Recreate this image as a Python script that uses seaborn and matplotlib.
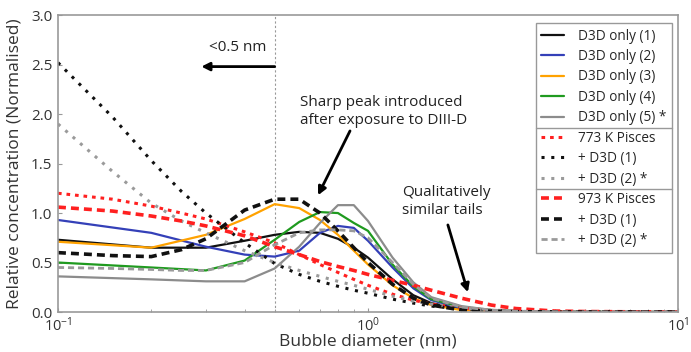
import numpy as np
import pandas as pd
import matplotlib
matplotlib.use("Agg")
import matplotlib.pyplot as plt
import seaborn as sns
from matplotlib.lines import Line2D

sns.set_style("white")
plt.rcParams['font.family'] = ['Open Sans', 'DejaVu Sans']
plt.rcParams['mathtext.fontset'] = 'dejavusans'

# ---------------- data (bubble diameter in nm, relative concentration) -------------
x_d3d = [0.1, 0.2, 0.3, 0.4, 0.5, 0.6, 0.7, 0.8, 0.9, 1.0, 1.2, 1.4, 1.6, 2.0, 2.5, 3.0, 4.0, 6.0, 10.0]
d3d_1 = [0.73, 0.65, 0.65, 0.72, 0.78, 0.81, 0.80, 0.74, 0.65, 0.55, 0.33, 0.17, 0.09, 0.03, 0.01, 0.005, 0.002, 0.0, 0.0]
d3d_2 = [0.93, 0.80, 0.66, 0.58, 0.56, 0.62, 0.80, 0.87, 0.85, 0.72, 0.45, 0.24, 0.12, 0.04, 0.01, 0.005, 0.002, 0.0, 0.0]
d3d_3 = [0.71, 0.65, 0.78, 0.94, 1.09, 1.05, 0.93, 0.78, 0.62, 0.48, 0.27, 0.14, 0.07, 0.02, 0.01, 0.005, 0.002, 0.0, 0.0]
d3d_4 = [0.50, 0.45, 0.42, 0.52, 0.73, 0.91, 1.01, 1.00, 0.90, 0.82, 0.48, 0.26, 0.13, 0.05, 0.02, 0.008, 0.003, 0.0, 0.0]
d3d_5 = [0.36, 0.33, 0.31, 0.31, 0.44, 0.66, 0.90, 1.08, 1.08, 0.92, 0.55, 0.30, 0.15, 0.06, 0.02, 0.008, 0.003, 0.0, 0.0]

x_fit = [0.1, 0.15, 0.2, 0.25, 0.3, 0.4, 0.5, 0.6, 0.7, 0.8, 0.9, 1.0, 1.2, 1.4, 1.6, 2.0, 2.5, 3.0, 4.0, 5.0, 7.0, 10.0]
p773 = [1.20, 1.14, 1.07, 1.00, 0.94, 0.81, 0.70, 0.58, 0.48, 0.40, 0.33, 0.27, 0.18, 0.12, 0.08, 0.04, 0.015, 0.007, 0.002, 0.001, 0.0, 0.0]
p773_d3d1 = [2.52, 1.97, 1.53, 1.22, 1.00, 0.70, 0.49, 0.38, 0.31, 0.26, 0.22, 0.19, 0.13, 0.09, 0.06, 0.03, 0.012, 0.006, 0.002, 0.001, 0.0, 0.0]
p773_d3d2 = [1.90, 1.42, 1.10, 0.92, 0.80, 0.62, 0.50, 0.42, 0.36, 0.31, 0.27, 0.23, 0.16, 0.11, 0.08, 0.04, 0.02, 0.01, 0.003, 0.001, 0.0, 0.0]
p973 = [1.06, 1.02, 0.97, 0.92, 0.87, 0.77, 0.66, 0.58, 0.51, 0.46, 0.42, 0.38, 0.32, 0.27, 0.22, 0.14, 0.07, 0.035, 0.01, 0.005, 0.002, 0.0]
p973_d3d1 = [0.60, 0.57, 0.56, 0.63, 0.74, 1.03, 1.14, 1.14, 1.00, 0.82, 0.65, 0.50, 0.28, 0.14, 0.07, 0.02, 0.008, 0.003, 0.001, 0.0, 0.0, 0.0]
p973_d3d2 = [0.45, 0.44, 0.43, 0.42, 0.42, 0.50, 0.68, 0.80, 0.83, 0.83, 0.82, 0.75, 0.50, 0.28, 0.14, 0.05, 0.02, 0.008, 0.003, 0.001, 0.0, 0.0]

labels = ["D3D only (1)", "D3D only (2)", "D3D only (3)", "D3D only (4)", "D3D only (5) *",
          "773 K Pisces", "+ D3D (1)", "+ D3D (2) *",
          "973 K Pisces", "+ D3D (1)", "+ D3D (2) *"]

series = [
    (x_d3d, d3d_1, "#111111", "-", 1.6),
    (x_d3d, d3d_2, "#3440b8", "-", 1.6),
    (x_d3d, d3d_3, "#ffa200", "-", 1.6),
    (x_d3d, d3d_4, "#1f9a1f", "-", 1.6),
    (x_d3d, d3d_5, "#8c8c8c", "-", 1.6),
    (x_fit, p773, "#ff2020", (0, (1.2, 1.6)), 2.2),
    (x_fit, p773_d3d1, "#111111", (0, (1.0, 2.2)), 2.2),
    (x_fit, p773_d3d2, "#9a9a9a", (0, (1.0, 2.2)), 2.2),
    (x_fit, p973, "#ff2020", (0, (2.2, 1.4)), 2.6),
    (x_fit, p973_d3d1, "#111111", (0, (2.2, 1.4)), 2.6),
    (x_fit, p973_d3d2, "#9a9a9a", (0, (2.2, 1.4)), 2.0),
]

fig = plt.figure(figsize=(6.91, 3.52), dpi=100)
ax = fig.add_axes([0.0839, 0.1136, 0.8973, 0.8434])

handles = []
for (xs, ys, col, ls, lw), lab in zip(series, labels):
    df = pd.DataFrame({"x": xs, "y": ys})
    sns.lineplot(data=df, x="x", y="y", ax=ax, color=col, linestyle=ls, linewidth=lw,
                 estimator=None, sort=False, legend=False)
    handles.append(Line2D([0], [0], color=col, linestyle=ls, linewidth=lw, label=lab))

ax.axvline(0.5, color="#999999", linestyle=(0, (2, 2)), linewidth=0.8, zorder=0)

ax.set_xscale("log")
ax.set_xlim(0.1, 10)
ax.set_ylim(0, 3.0)
ax.set_yticks([0, 0.5, 1.0, 1.5, 2.0, 2.5, 3.0])
ax.set_yticklabels(["0.0", "0.5", "1.0", "1.5", "2.0", "2.5", "3.0"])
ax.set_xlabel("Bubble diameter (nm)", fontsize=12.5, color="#333333", labelpad=-1)
ax.set_ylabel("Relative concentration (Normalised)", fontsize=12.5, color="#333333", labelpad=6)
ax.tick_params(axis="both", which="both", direction="in", colors="#999999", labelcolor="#333333")
ax.tick_params(axis="y", labelsize=11, pad=4)
ax.tick_params(axis="x", labelsize=10.5, pad=3)
ax.tick_params(axis="both", which="major", length=3, width=0.8)
ax.tick_params(axis="x", which="minor", length=2, width=0.6)
ax.xaxis.set_ticks_position("bottom")
ax.yaxis.set_ticks_position("left")
for s in ax.spines.values():
    s.set_color("#999999")
    s.set_linewidth(1.2)
    s.set_visible(True)

# annotations
ax.text(0.381, 2.67, "<0.5 nm", fontsize=11, ha="center", va="center", color="#222222")
ax.annotate("", xy=(0.29, 2.48), xytext=(0.5, 2.48),
            arrowprops=dict(arrowstyle="-|>", color="black", lw=2, mutation_scale=12, shrinkA=0, shrinkB=0))
ax.text(0.605, 2.03, "Sharp peak introduced\nafter exposure to DIII-D", fontsize=11, ha="left",
        va="center", color="#222222", linespacing=1.25)
ax.annotate("", xy=(0.69, 1.18), xytext=(0.875, 1.83),
            arrowprops=dict(arrowstyle="-|>", color="black", lw=2, mutation_scale=12, shrinkA=0, shrinkB=0))
ax.text(1.29, 1.12, "Qualitatively\nsimilar tails", fontsize=11, ha="left",
        va="center", color="#222222", linespacing=1.25)
ax.annotate("", xy=(2.10, 0.20), xytext=(1.81, 0.88),
            arrowprops=dict(arrowstyle="-|>", color="black", lw=2, mutation_scale=12, shrinkA=0, shrinkB=0))

leg = ax.legend(handles=handles, loc="upper right", bbox_to_anchor=(0.990, 0.973),
                fontsize=9.8, frameon=True, fancybox=False, framealpha=1, edgecolor="#999999",
                handlelength=1.7, handletextpad=1.0, labelspacing=0.4, borderpad=0.4,
                borderaxespad=0.0)
leg.get_frame().set_linewidth(1.0)

fig.canvas.draw()
renderer = fig.canvas.get_renderer()
texts = leg.get_texts()
fb = leg.get_frame().get_window_extent(renderer)
inv = fig.transFigure.inverted()
for a, b in [(4, 5), (7, 8)]:
    ya = texts[a].get_window_extent(renderer)
    yb = texts[b].get_window_extent(renderer)
    ymid = (ya.y0 + yb.y1) / 2.0
    (x0, y0) = inv.transform((fb.x0, ymid))
    (x1, _) = inv.transform((fb.x1, ymid))
    fig.add_artist(Line2D([x0, x1], [y0, y0], color="#999999", lw=1.0, transform=fig.transFigure))

fig.savefig("out.png", dpi=100)
